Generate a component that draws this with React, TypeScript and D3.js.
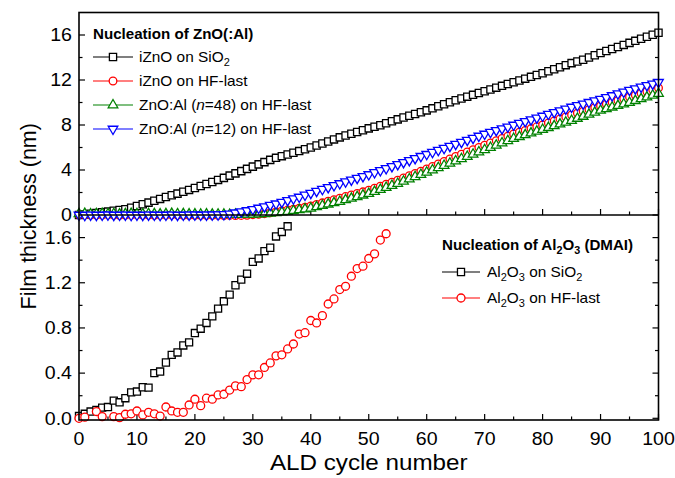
import React from 'react';
import * as d3 from 'd3';

// ---------- data ----------
const cycles = d3.range(0, 101);

const znoOnSiO2 = [0.00,0.05,0.12,0.18,0.24,0.30,0.38,0.45,0.52,0.65,
0.80,0.95,1.10,1.27,1.43,1.60,1.75,1.90,2.07,2.23,
2.40,2.58,2.76,2.94,3.12,3.30,3.50,3.70,3.90,4.10,
4.30,4.50,4.70,4.90,5.08,5.23,5.38,5.53,5.68,5.84,
6.00,6.18,6.36,6.54,6.72,6.90,7.06,7.22,7.38,7.54,
7.70,7.85,7.98,8.15,8.33,8.50,8.66,8.82,8.98,9.14,
9.30,9.48,9.66,9.84,10.02,10.20,10.36,10.52,10.68,10.84,
11.00,11.16,11.32,11.48,11.64,11.80,11.96,12.12,12.28,12.44,
12.60,12.78,12.96,13.14,13.32,13.50,13.65,13.80,14.00,14.20,
14.40,14.58,14.76,14.94,15.12,15.30,15.48,15.66,15.84,16.02,
16.20];

const znoOnHF = [0.02,0.01,0.00,-0.01,0.00,0.01,0.00,-0.02,-0.01,0.00,
0.01,0.00,-0.01,-0.02,-0.01,0.00,0.01,-0.01,-0.02,-0.03,
-0.02,-0.03,-0.04,-0.03,-0.04,-0.05,-0.04,-0.05,-0.04,-0.02,
0.03,0.06,0.12,0.20,0.28,0.36,0.44,0.52,0.60,0.70,
0.80,0.94,1.08,1.22,1.36,1.50,1.64,1.78,1.92,2.06,
2.20,2.38,2.56,2.74,2.92,3.10,3.30,3.50,3.70,3.90,
4.10,4.32,4.54,4.76,4.98,5.20,5.40,5.60,5.80,6.00,
6.20,6.40,6.60,6.80,7.00,7.20,7.36,7.52,7.68,7.84,
8.00,8.18,8.36,8.54,8.72,8.90,9.06,9.22,9.38,9.54,
9.70,9.86,10.02,10.18,10.34,10.50,10.66,10.82,10.98,11.14,
11.30];

const znoAl48OnHF = [0.10,0.12,0.08,0.10,0.12,0.09,0.11,0.08,0.10,0.12,
0.10,0.09,0.11,0.10,0.08,0.10,0.12,0.09,0.10,0.08,
0.07,0.06,0.07,0.05,0.06,0.05,0.04,0.05,0.04,0.05,
0.06,0.08,0.10,0.15,0.20,0.25,0.30,0.38,0.45,0.52,
0.60,0.72,0.84,0.96,1.08,1.20,1.34,1.48,1.62,1.76,
1.90,2.08,2.26,2.44,2.62,2.80,3.00,3.20,3.40,3.60,
3.80,4.00,4.20,4.40,4.60,4.80,5.00,5.20,5.40,5.60,
5.80,6.00,6.20,6.40,6.60,6.80,6.96,7.12,7.28,7.44,
7.60,7.76,7.92,8.08,8.24,8.40,8.58,8.76,8.94,9.12,
9.30,9.44,9.58,9.72,9.86,10.00,10.16,10.32,10.48,10.64,
10.80];

const znoAl12OnHF = [0.00,-0.02,0.01,-0.01,0.00,0.02,-0.01,0.00,0.01,-0.02,
0.00,-0.01,0.01,0.00,-0.02,0.00,0.01,-0.01,0.00,0.01,
0.02,0.00,0.01,0.02,0.03,0.05,0.10,0.20,0.30,0.40,
0.50,0.62,0.75,0.88,1.00,1.15,1.30,1.45,1.60,1.78,
1.95,2.12,2.29,2.46,2.63,2.80,2.96,3.12,3.28,3.44,
3.60,3.78,3.96,4.14,4.32,4.50,4.68,4.86,5.04,5.22,
5.40,5.58,5.76,5.94,6.12,6.30,6.48,6.66,6.84,7.02,
7.20,7.36,7.52,7.68,7.84,8.00,8.16,8.32,8.48,8.64,
8.80,8.96,9.12,9.28,9.44,9.60,9.74,9.88,10.02,10.16,
10.30,10.46,10.62,10.78,10.94,11.10,11.24,11.38,11.52,11.66,
11.80];

const alCyclesSiO2 = [0,1,2,3,4,5,6,7,8,9,10,11,12,13,14,15,16,17,18,19,20,21,22,23,24,25,26,27,28,29,30,31,32,33,34,35,36];
const al2o3OnSiO2 = [0.02,0.04,0.06,0.074,0.094,0.10,0.157,0.142,0.178,0.23,
0.237,0.275,0.272,0.40,0.414,0.494,0.562,0.583,0.645,0.672,
0.755,0.793,0.844,0.903,0.971,1.036,1.095,1.178,1.228,1.28,
1.385,1.415,1.48,1.51,1.61,1.65,1.70];

const alCyclesHF = [0,1,3,4,6,7,8,9,10,11,12,13,14,15,16,17,18,19,20,21,22,23,24,25,26,27,28,29,30,31,32,33,34,35,36,37,38,39,40,41,42,43,44,45,46,47,48,49,50,51,52,53];
const al2o3OnHF = [0.00,0.01,0.06,0.015,0.015,0.006,0.036,0.04,0.065,0.03,
0.053,0.04,0.02,0.10,0.065,0.053,0.053,0.118,0.169,0.112,
0.178,0.169,0.207,0.213,0.25,0.287,0.28,0.343,0.385,0.385,
0.45,0.49,0.553,0.562,0.614,0.658,0.746,0.758,0.866,0.844,
0.909,1.012,1.057,1.14,1.169,1.258,1.326,1.347,1.415,1.456,
1.578,1.634];

const xTicks = [0,10,20,30,40,50,60,70,80,90,100];
const xMinor = [5,15,25,35,45,55,65,75,85,95];
const topTicks = [0,4,8,12,16];
const topMinor = [2,6,10,14];
const botTicks = [0.0,0.4,0.8,1.2,1.6];
const botMinor = [0.2,0.6,1.0,1.4];

// ---------- layout ----------
const W = 675, H = 478;
const L = 79, R = 658.5, T = 12.5, MID = 215, B = 420;
const FONT = "'Liberation Sans', Arial, sans-serif";

const x = d3.scaleLinear().domain([0, 100]).range([L, R]);
const yTop = d3.scaleLinear().domain([0, 18]).range([MID, T]);
const yBot = d3.scaleLinear().domain([-0.015, 1.8]).range([B, MID]);

const sym = (type: any, size: number) => d3.symbol(type, size)() as string;
const SQ = sym(d3.symbolSquare, 52);
const SQs = sym(d3.symbolSquare, 50);
const CI = sym(d3.symbolCircle, 46);
const CIs = sym(d3.symbolCircle, 50);
const TRI = sym(d3.symbolTriangle, 40);

type Mk = 'sq' | 'ci' | 'up' | 'dn';
const markerPath = (m: Mk, small = false) =>
  m === 'sq' ? (small ? SQs : SQ) : m === 'ci' ? (small ? CIs : CI) : TRI;
const Marker = ({ m, cx, cy, color, small = false }: any) => (
  <path
    d={markerPath(m, small)}
    transform={`translate(${cx},${cy})${m === 'dn' ? ' rotate(180)' : ''}`}
    fill="#fff"
    stroke={color}
    strokeWidth={1.3}
  />
);

const STxt = ({ x: tx, y: ty, sx = 1.1, anchor = 'start', size = 14, weight = 'normal', children }: any) => (
  <text
    transform={`translate(${tx},${ty}) scale(${sx},1)`}
    textAnchor={anchor}
    fontSize={size}
    fontWeight={weight}
    fontFamily={FONT}
    fill="#000"
  >
    {children}
  </text>
);

const topSeries = [
  { vals: znoOnSiO2, color: '#000000', m: 'sq' as Mk },
  { vals: znoOnHF, color: '#ff0000', m: 'ci' as Mk },
  { vals: znoAl48OnHF, color: '#008000', m: 'up' as Mk },
  { vals: znoAl12OnHF, color: '#0000ff', m: 'dn' as Mk },
];

const Al2O3 = () => (
  <>
    Al<tspan dy={4} fontSize={10}>2</tspan><tspan dy={-4}>O</tspan><tspan dy={4} fontSize={10}>3</tspan>
  </>
);

export default function App() {
  const line = d3.line<number>().x((_, i) => x(cycles[i])).y((d) => yTop(d));
  const sw = 1.6;
  const maj = 6, mnr = 3.5;

  const yAxisTicks = (scale: any, majors: number[], minors: number[]) => (
    <g stroke="#000" strokeWidth={1.2}>
      {majors.map((t) => (
        <g key={'M' + t}>
          <line x1={L} x2={L + maj} y1={scale(t)} y2={scale(t)} />
          <line x1={R} x2={R - maj} y1={scale(t)} y2={scale(t)} />
        </g>
      ))}
      {minors.map((t) => (
        <g key={'m' + t}>
          <line x1={L} x2={L + mnr} y1={scale(t)} y2={scale(t)} />
          <line x1={R} x2={R - mnr} y1={scale(t)} y2={scale(t)} />
        </g>
      ))}
    </g>
  );

  const xAxisTicks = (y0: number) => (
    <g stroke="#000" strokeWidth={1.2}>
      {xTicks.map((t) => (
        <line key={'M' + t} x1={x(t)} x2={x(t)} y1={y0} y2={y0 - maj} />
      ))}
      {xMinor.map((t) => (
        <line key={'m' + t} x1={x(t)} x2={x(t)} y1={y0} y2={y0 - mnr} />
      ))}
    </g>
  );

  const legendTop = [
    { color: '#000000', m: 'sq' as Mk, label: <>iZnO on SiO<tspan dy={4} fontSize={10}>2</tspan></> },
    { color: '#ff0000', m: 'ci' as Mk, label: <>iZnO on HF-last</> },
    { color: '#008000', m: 'up' as Mk, label: <>ZnO:Al (<tspan fontStyle="italic">n</tspan>=48) on HF-last</> },
    { color: '#0000ff', m: 'dn' as Mk, label: <>ZnO:Al (<tspan fontStyle="italic">n</tspan>=12) on HF-last</> },
  ];
  const legTopY = [57, 81, 105, 129];

  const legendBot = [
    { color: '#000000', m: 'sq' as Mk, label: <><Al2O3 /><tspan dy={-4}> on SiO</tspan><tspan dy={4} fontSize={10}>2</tspan></> },
    { color: '#ff0000', m: 'ci' as Mk, label: <><Al2O3 /><tspan dy={-4}> on HF-last</tspan></> },
  ];
  const legBotY = [272, 298];

  return (
    <svg
      width={W}
      height={H}
      viewBox={`0 0 ${W} ${H}`}
      style={{ position: 'fixed', left: 0, top: 0, background: '#fff' }}
    >
      <rect x={0} y={0} width={W} height={H} fill="#fff" />

      {/* ticks */}
      {yAxisTicks(yTop, topTicks, topMinor)}
      {yAxisTicks(yBot, botTicks, botMinor)}
      {xAxisTicks(B)}
      {xAxisTicks(MID)}

      {/* top panel series */}
      {topSeries.map((s, si) => (
        <g key={si}>
          <path d={line(s.vals) as string} fill="none" stroke={s.color} strokeWidth={1.1} />
          {s.vals.map((v, i) => (
            <Marker key={i} m={s.m} cx={x(cycles[i])} cy={yTop(v)} color={s.color} />
          ))}
        </g>
      ))}

      {/* bottom panel series */}
      <g>
        {al2o3OnSiO2.map((v, i) => (
          <Marker key={'s' + i} m="sq" small cx={x(alCyclesSiO2[i])} cy={yBot(v)} color="#000" />
        ))}
        {al2o3OnHF.map((v, i) => (
          <Marker key={'h' + i} m="ci" small cx={x(alCyclesHF[i])} cy={yBot(v)} color="#ff0000" />
        ))}
      </g>

      {/* frame */}
      <rect x={L} y={T} width={R - L} height={B - T} fill="none" stroke="#000" strokeWidth={sw} />
      <line x1={L} x2={R} y1={MID} y2={MID} stroke="#000" strokeWidth={sw} />

      {/* tick labels */}
      {topTicks.map((t) => (
        <STxt key={'tl' + t} x={72} y={yTop(t) + 6.3} anchor="end" size={17.5} sx={1.12}>{String(t)}</STxt>
      ))}
      {botTicks.map((t) => (
        <STxt key={'bl' + t} x={72} y={yBot(t) + 6.3} anchor="end" size={17.5} sx={1.12}>{t.toFixed(1)}</STxt>
      ))}
      {xTicks.map((t) => (
        <STxt key={'xl' + t} x={x(t)} y={445} anchor="middle" size={17.5} sx={1.12}>{String(t)}</STxt>
      ))}

      {/* axis titles */}
      <STxt x={x(50)} y={470} anchor="middle" size={22} sx={1.1}>ALD cycle number</STxt>
      <text
        transform={`translate(36,${(T + B) / 2}) rotate(-90)`}
        textAnchor="middle"
        fontSize={21.5}
        fontFamily={FONT}
      >
        Film thickness (nm)
      </text>

      {/* top legend */}
      <STxt x={93} y={39} size={14} weight="bold" sx={1.08}>Nucleation of ZnO(:Al)</STxt>
      {legendTop.map((e, i) => (
        <g key={'lt' + i}>
          <line x1={93} x2={133} y1={legTopY[i]} y2={legTopY[i]} stroke={e.color} strokeWidth={1.2} />
          <Marker m={e.m} cx={113} cy={legTopY[i]} color={e.color} />
          <STxt x={139} y={legTopY[i] + 5} size={14} sx={1.1}>{e.label}</STxt>
        </g>
      ))}

      {/* bottom legend */}
      <STxt x={442} y={250} size={14} weight="bold" sx={1.08}>
        Nucleation of <Al2O3 /><tspan dy={-4}> (DMAI)</tspan>
      </STxt>
      {legendBot.map((e, i) => (
        <g key={'lb' + i}>
          <line x1={442} x2={480} y1={legBotY[i]} y2={legBotY[i]} stroke={e.color} strokeWidth={1.2} />
          <Marker m={e.m} small cx={461} cy={legBotY[i]} color={e.color} />
          <STxt x={487} y={legBotY[i] + 5} size={14} sx={1.1}>{e.label}</STxt>
        </g>
      ))}
    </svg>
  );
}
